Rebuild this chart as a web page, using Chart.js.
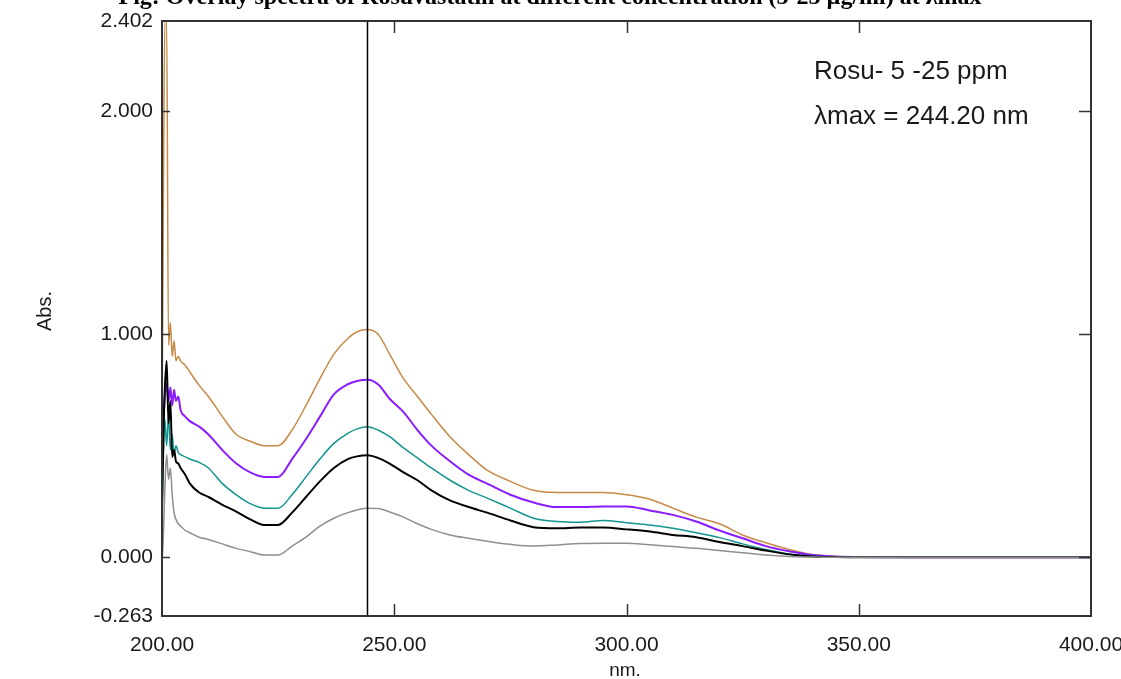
<!DOCTYPE html>
<html>
<head>
<meta charset="utf-8">
<script src="https://cdn.jsdelivr.net/npm/chart.js@4/dist/chart.umd.min.js"></script>
<style>
html,body{margin:0;padding:0;background:#fff;}
#wrap{width:1121px;height:679px;position:relative;}
</style>
</head>
<body>
<div id="wrap"><canvas id="c" width="1121" height="679"></canvas></div>
<script>
// Wavelength grid (nm)
const wavelengths = [200.0,200.3,200.6,201.0,201.4,201.8,202.2,202.6,203.0,203.5,204.0,205.0,206.0,208.0,210.0,213.0,216.0,219.0,222.0,225.0,228.0,231.0,234.0,237.0,240.0,242.0,244.2,246.5,249.0,252.0,255.0,258.0,262.0,266.0,270.0,275.0,280.0,285.0,290.0,295.0,300.0,305.0,310.0,315.0,320.0,325.0,330.0,335.0,340.0,345.0,350.0,360.0,370.0,380.0,390.0,400.0];

// Absorbance series (5, 10, 15, 20, 25 ppm)
const abs5 = [-0.03,0.10,0.30,0.46,0.35,0.40,0.28,0.20,0.17,0.15,0.14,0.12,0.11,0.09,0.08,0.06,0.04,0.025,0.01,0.01,0.05,0.09,0.14,0.175,0.20,0.212,0.22,0.218,0.203,0.18,0.15,0.125,0.10,0.085,0.072,0.058,0.05,0.055,0.062,0.063,0.063,0.056,0.048,0.04,0.03,0.02,0.01,0.004,0.001,0,0,0,0,0,0,0];
const abs10 = [0.20,0.55,0.75,0.88,0.60,0.70,0.45,0.48,0.43,0.42,0.40,0.37,0.33,0.29,0.27,0.235,0.205,0.17,0.145,0.145,0.20,0.27,0.34,0.40,0.44,0.452,0.457,0.445,0.42,0.38,0.345,0.30,0.255,0.225,0.20,0.165,0.135,0.13,0.133,0.133,0.125,0.115,0.10,0.09,0.068,0.05,0.03,0.013,0.004,0.001,0,0,0,0,0,0];
const abs15 = [0.20,0.45,0.62,0.50,0.64,0.48,0.55,0.46,0.50,0.47,0.46,0.45,0.44,0.425,0.40,0.33,0.28,0.24,0.22,0.22,0.28,0.36,0.44,0.51,0.555,0.575,0.585,0.57,0.54,0.49,0.445,0.40,0.345,0.30,0.265,0.22,0.175,0.16,0.157,0.165,0.155,0.145,0.13,0.11,0.088,0.06,0.035,0.015,0.005,0.002,0,0,0,0,0,0];
const abs20 = [0.45,0.60,0.72,0.78,0.70,0.76,0.68,0.75,0.70,0.72,0.66,0.63,0.61,0.585,0.55,0.48,0.42,0.38,0.36,0.36,0.44,0.53,0.63,0.73,0.775,0.79,0.795,0.775,0.71,0.65,0.57,0.50,0.43,0.37,0.33,0.28,0.245,0.225,0.225,0.228,0.228,0.21,0.19,0.16,0.12,0.085,0.05,0.027,0.01,0.003,0.001,0,0,0,0,0];
const abs25 = [0.55,1.60,2.40,2.40,0.95,1.05,0.90,0.97,0.88,0.90,0.88,0.86,0.83,0.77,0.72,0.63,0.55,0.52,0.50,0.50,0.57,0.68,0.80,0.91,0.98,1.01,1.02,1.00,0.91,0.80,0.72,0.64,0.54,0.46,0.39,0.34,0.30,0.29,0.29,0.29,0.28,0.26,0.22,0.18,0.15,0.10,0.065,0.035,0.012,0.004,0.001,0,0,0,0,0];

const xTicks = [200, 250, 300, 350, 400];
const yTicks = [-0.263, 0, 1, 2, 2.402];
const innerTicksY = [0, 1, 2];
const innerTicksX = [250, 300, 350];
const lambdaMax = 244.2;

const seriesNames = ['5 ppm','10 ppm','15 ppm','20 ppm','25 ppm'];
const seriesData = [abs5, abs10, abs15, abs20, abs25];
const seriesColors = ['#8f8f8f', '#000000', '#13958f', '#8a1cff', '#c68a47'];
const seriesWidths = [1.5, 2, 1.5, 2, 1.5];

const FONT = '"Liberation Sans", Arial, sans-serif';

const decor = {
  id: 'decor',
  afterDatasetsDraw(chart) {
    const {ctx, chartArea: a, scales: {x, y}} = chart;
    ctx.save();
    // lambda max line
    const lx = Math.round(x.getPixelForValue(lambdaMax)) + 0.5;
    ctx.strokeStyle = '#000';
    ctx.lineWidth = 1.5;
    ctx.beginPath(); ctx.moveTo(lx, a.top); ctx.lineTo(lx, a.bottom); ctx.stroke();
    // frame
    ctx.strokeStyle = '#333';
    ctx.lineWidth = 2;
    ctx.strokeRect(a.left, a.top, a.right - a.left, a.bottom - a.top);
    // inner ticks
    ctx.lineWidth = 1.5;
    innerTicksY.forEach(v => {
      const py = Math.round(y.getPixelForValue(v)) + 0.5;
      ctx.beginPath(); ctx.moveTo(a.left, py); ctx.lineTo(a.left + 8, py); ctx.stroke();
      ctx.beginPath(); ctx.moveTo(a.right, py); ctx.lineTo(a.right - 12, py); ctx.stroke();
    });
    innerTicksX.forEach(v => {
      const px = Math.round(x.getPixelForValue(v)) + 0.5;
      ctx.beginPath(); ctx.moveTo(px, a.top); ctx.lineTo(px, a.top + 12); ctx.stroke();
      ctx.beginPath(); ctx.moveTo(px, a.bottom); ctx.lineTo(px, a.bottom - 12); ctx.stroke();
    });
    // annotation
    ctx.fillStyle = '#1a1a1a';
    ctx.font = '26px ' + FONT;
    ctx.textAlign = 'left';
    ctx.textBaseline = 'middle';
    ctx.fillText('Rosu- 5 -25 ppm', 814, 72);
    ctx.fillText('\u03BBmax = 244.20 nm', 814, 117);
    // axis titles
    ctx.font = '19px ' + FONT;
    ctx.textAlign = 'center';
    ctx.fillText('nm.', 625, 671);
    ctx.save();
    ctx.translate(45, 311);
    ctx.rotate(-Math.PI / 2);
    ctx.font = '20px ' + FONT;
    ctx.fillText('Abs.', 0, 0);
    ctx.restore();
    // cut-off caption at top
    ctx.font = 'bold 24px "Liberation Serif", "Times New Roman", serif';
    ctx.textBaseline = 'alphabetic';
    ctx.fillStyle = '#000';
    ctx.fillText('Fig: Overlay spectra of Rosuvastatin at different concentration (5-25 \u00B5g/ml) at \u03BBmax', 550, 4);
    ctx.restore();
  }
};

new Chart(document.getElementById('c'), {
  type: 'scatter',
  data: {
    datasets: seriesData.map((vals, i) => ({
      label: seriesNames[i],
      data: wavelengths.map((w, j) => ({x: w, y: vals[j]})),
      showLine: true,
      borderColor: seriesColors[i],
      backgroundColor: seriesColors[i],
      borderWidth: seriesWidths[i],
      pointRadius: 0,
      cubicInterpolationMode: 'monotone',
      fill: false
    }))
  },
  options: {
    responsive: false,
    animation: false,
    layout: {padding: {left: 0, right: 30, top: 21, bottom: 0}},
    plugins: {legend: {display: false}, tooltip: {enabled: false}, title: {display: false}},
    scales: {
      x: {
        type: 'linear', min: 200, max: 400,
        grid: {display: false, drawTicks: false},
        border: {display: false},
        afterBuildTicks: s => { s.ticks = xTicks.map(v => ({value: v})); },
        afterFit: s => { s.height = 63; s.paddingLeft = 0; s.paddingRight = 0; },
        ticks: {
          padding: 17, color: '#1a1a1a', maxRotation: 0, autoSkip: false,
          font: {family: FONT, size: 21},
          callback: v => Number(v).toFixed(2)
        }
      },
      y: {
        type: 'linear', min: -0.263, max: 2.402,
        grid: {display: false, drawTicks: false},
        border: {display: false},
        afterBuildTicks: s => { s.ticks = yTicks.map(v => ({value: v})); },
        afterFit: s => { s.width = 162; s.paddingTop = 0; s.paddingBottom = 0; },
        ticks: {
          padding: 9, color: '#1a1a1a', autoSkip: false,
          font: {family: FONT, size: 21},
          callback: v => Number(v).toFixed(3)
        }
      }
    }
  },
  plugins: [decor]
});
</script>
</body>
</html>
